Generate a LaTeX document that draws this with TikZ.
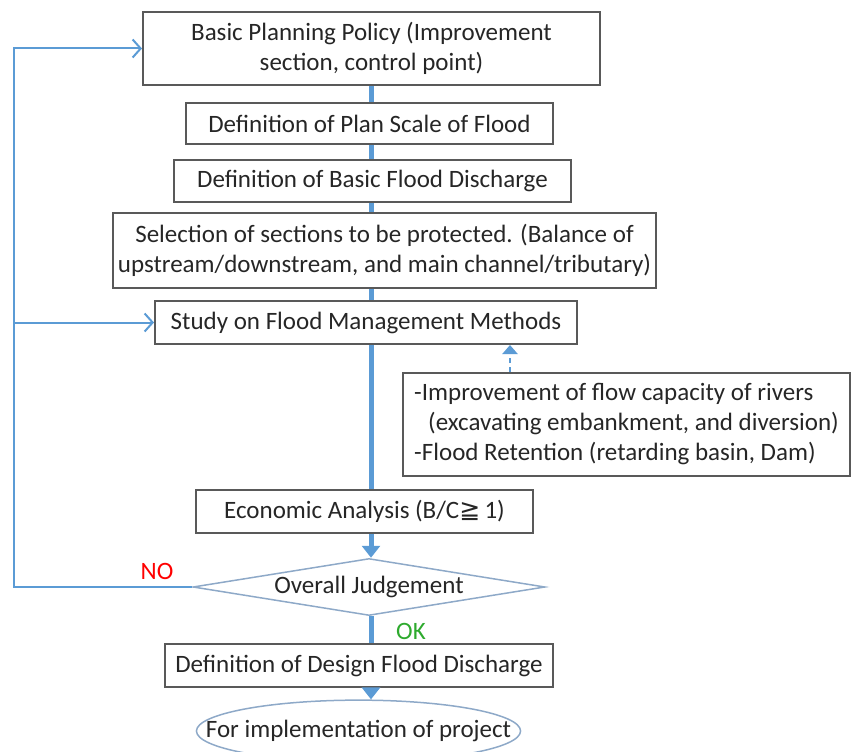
\documentclass[tikz,border=0pt]{standalone}
\usepackage{fontspec}
\setmainfont{Carlito}
\newfontfamily\symfont{DejaVu Sans}
\usepackage{xcolor}
\usetikzlibrary{shapes.geometric, arrows.meta}
\definecolor{flowblue}{HTML}{5B9BD5}
\definecolor{boxgray}{HTML}{595959}
\definecolor{shapeblue}{HTML}{8EA9C8}
\definecolor{txtgray}{HTML}{262626}
\definecolor{okgreen}{HTML}{2EAA2E}
\tikzstyle{block}    = [rectangle, draw=boxgray, line width=2pt, inner sep=0pt, text=txtgray]
\tikzstyle{judgebox} = [diamond, draw=shapeblue, line width=1.5pt, inner sep=0pt, aspect=6.2, text=txtgray]
\tikzstyle{endbox}   = [ellipse, draw=shapeblue, line width=1.5pt, inner xsep=-38pt, inner ysep=11pt, text=txtgray]
\tikzstyle{spine}    = [flowblue, line width=5pt]
\tikzstyle{arrow}    = [spine, -{Triangle[length=12pt,width=18pt]}]
\tikzstyle{loopback} = [flowblue, line width=2pt, -{Straight Barb[length=8pt,width=18pt]}]
\tikzstyle{hint}     = [flowblue, line width=2.5pt, dash pattern=on 5pt off 4pt, -{Triangle[length=9pt,width=15pt]}]
\tikzset{every node/.style={align=center, font=\fontsize{25}{30}\selectfont}}

\begin{document}
\begin{tikzpicture}[x=1pt, y=-1pt]
    \useasboundingbox (0,0) rectangle (852,752);

    \node (policy)  at (371.5,48.5) [block, minimum width=457pt, minimum height=73pt] {Basic Planning Policy (Improvement\\section, control point)};
    \node (scale)   at (369.5,123.5)[block, minimum width=367pt, minimum height=41pt] {Definition of Plan Scale of Flood};
    \node (basic)   at (372.5,181)  [block, minimum width=397pt, minimum height=42pt] {Definition of Basic Flood Discharge};
    \node (select)  at (384.5,250.5)[block, minimum width=543pt, minimum height=75pt] {Selection of sections to be protected. (Balance of\\upstream/downstream, and main channel/tributary)};
    \node (study)   at (366,322.5)  [block, minimum width=422pt, minimum height=43pt] {Study on Flood Management Methods};
    \node (methods) at (626.5,424.5)[block, align=left, minimum width=447pt, minimum height=103pt] {-Improvement of flow capacity of rivers\\\hspace*{14pt}(excavating embankment, and diversion)\\-Flood Retention (retarding basin, Dam)};
    \node (econ)    at (364.5,511.5)[block, minimum width=337pt, minimum height=43pt] {Economic Analysis (B/C{\symfont ≧}\,1)};
    \node (judge)   at (369,587)    [judgebox, minimum width=352pt, minimum height=57pt] {Overall Judgement};
    \node (design)  at (359,665.5)  [block, minimum width=388pt, minimum height=43pt] {Definition of Design Flood Discharge};
    \node (goal)    at (358.5,731)  [endbox] {For implementation of project};

    \node (no) at (157,571) [text=red]     {NO};
    \node (ok) at (411,631) [text=okgreen] {OK};

    % main flow
    \coordinate (axis) at (371,0);
    \draw [spine] (policy.south -| axis) -- (scale.north -| axis);
    \draw [spine] (scale.south -| axis)  -- (basic.north -| axis);
    \draw [spine] (basic.south -| axis)  -- (select.north -| axis);
    \draw [spine] (select.south -| axis) -- (study.north -| axis);
    \draw [spine] (study.south -| axis)  -- (econ.north -| axis);
    \draw [arrow] (econ.south -| axis)   -- (judge.north -| axis);
    \draw [spine] (judge.south -| axis)  -- (design.north -| axis);
    \draw [arrow] (design.south -| axis) -- (goal.north -| axis);

    % NO: back to the top
    \coordinate (corner) at (14,587);
    \draw [loopback] (judge.west) -- (corner) |- (policy.west);
    \draw [loopback] (corner) |- (study.west);

    % methods feed the study
    \coordinate (hintx) at (510,0);
    \draw [hint] (methods.north -| hintx) -- (study.south -| hintx);
\end{tikzpicture}
\end{document}
